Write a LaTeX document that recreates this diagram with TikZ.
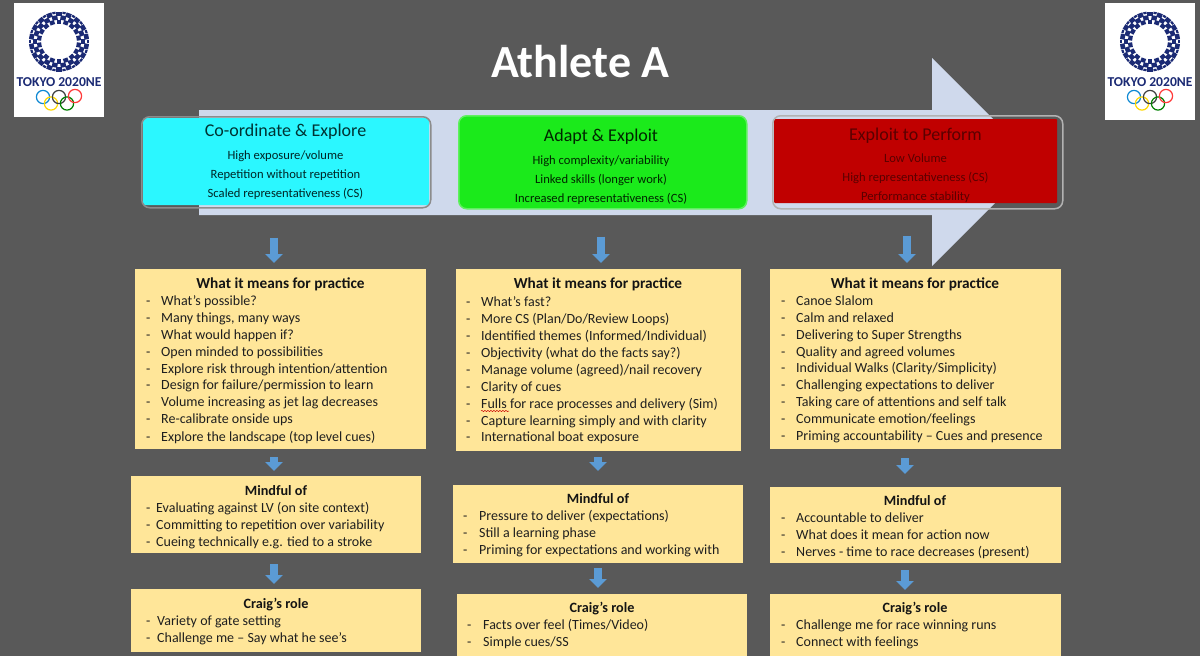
\documentclass[tikz,border=0pt]{standalone}
\usepackage{fontspec}
\setmainfont{Carlito}
\usetikzlibrary{arrows.meta,decorations.pathmorphing,calc}
\definecolor{bg}{HTML}{595959}
\definecolor{paleblue}{HTML}{CFD9EC}
\definecolor{flowblue}{HTML}{5B9BD5}
\definecolor{boxyellow}{HTML}{FFE699}
\definecolor{tcyan}{HTML}{2BF7FF}
\definecolor{tgreen}{HTML}{1BEA1B}
\definecolor{tred}{HTML}{C00000}
\definecolor{navy}{HTML}{1B2A74}
\definecolor{dkred}{HTML}{5A0000}
\tikzset{
  x=1pt,y=-1pt,
  ybox/.style={fill=boxyellow,draw=none,anchor=north west,inner sep=0pt},
  topframe/.style={rounded corners=8pt,draw=#1,line width=1.5pt,anchor=north west,inner sep=0pt},
  flow/.style={draw=flowblue,line width=8pt,-{Triangle[width=17pt,length=9pt]}},
  bl/.style={anchor=base west,inner sep=0pt,yshift=-1pt,font=\fontsize{14}{15}\selectfont,text=black!88},
  hd/.style={anchor=base,inner sep=0pt,font=\fontsize{14.2}{15}\selectfont\bfseries,text=black!92},
  hdp/.style={anchor=base,inner sep=0pt,font=\fontsize{15.3}{15}\selectfont\bfseries,text=black!92},
  ttl/.style={anchor=base,inner sep=0pt,font=\fontsize{18}{20}\selectfont},
  sub/.style={anchor=base,inner sep=0pt,font=\fontsize{12.6}{15}\selectfont},
  ring/.style={line width=1.2pt},
}
\newcommand{\logo}[3]{%
  \begin{scope}[shift={(#1,#2)}]
    \fill[white] (14,3) rectangle (104,#3);
    \foreach \a in {0,20,...,340}{
      \fill[navy,rotate around={\a:(59,41.5)}] (59,41.5)++(-2.7,-30) rectangle ++(5.4,4.6);
      \fill[navy,rotate around={\a+10:(59,41.5)}] (59,41.5)++(-2.7,-26.2) rectangle ++(5.4,4.6);
      \fill[navy,rotate around={\a:(59,41.5)}] (59,41.5)++(-2.4,-22) rectangle ++(4.8,4.2);
      \fill[navy,rotate around={\a+10:(59,41.5)}] (59,41.5)++(-1.6,-30) rectangle ++(3.2,2.2);
    }
    \node[inner sep=0pt,anchor=base,text=navy,font=\fontsize{13.6}{14}\selectfont\bfseries] at (59,86) {TOKYO 2020NE};
    \draw[ring,color=cyan!70!blue] (43,97) circle (6.6);
    \draw[ring,color=orange!30!yellow] (51,103.5) circle (6.6);
    \draw[ring,color=black!75] (59,97) circle (6.6);
    \draw[ring,color=green!50!black] (67,103.5) circle (6.6);
    \draw[ring,color=red!70!pink] (75,96) circle (6.6);
  \end{scope}}
\begin{document}
\begin{tikzpicture}
\useasboundingbox (0,0) rectangle (1200,656);
\fill[bg] (0,0) rectangle (1200,656);
\logo{0}{0}{117}
\logo{1091}{0}{120}
\node[inner sep=0pt,anchor=base,text=white,font=\fontsize{46}{50}\selectfont\bfseries] (title) at (580.5,77) {Athlete A};
% big arrow
\fill[paleblue] (199,110) -- (932,110) -- (932,58) -- (1036,162) -- (932,266) -- (932,215) -- (199,215) -- cycle;
% top boxes
\fill[tcyan,rounded corners=2pt] (143,118) rectangle (429,205);
\fill[tgreen,rounded corners=6pt] (459,116) rectangle (746,208);
\fill[tred,rounded corners=1pt] (774,119) rectangle (1057,203);
\node[topframe=black!45,minimum width=289pt,minimum height=91pt] (t1) at (141,116) {};
\node[topframe=tgreen!70!white,minimum width=288pt,minimum height=93pt] (t2) at (458,115) {};
\node[topframe=black!30,minimum width=290pt,minimum height=93pt] (t3) at (772,115) {};
\node[ttl,text=black!60!teal] (t1a) at (285.5,136) {Co-ordinate \& Explore};
\node[sub,text=black!70!teal] (t1b) at (285.5,159) {High exposure/volume};
\node[sub,text=black!70!teal] (t1c) at (285.5,178) {Repetition without repetition};
\node[sub,text=black!70!teal] (t1d) at (285.5,197) {Scaled representativeness (CS)};
\node[ttl,text=black!85!green] (t2a) at (601,141) {Adapt \& Exploit};
\node[sub,text=black!85!green] (t2b) at (601,164) {High complexity/variability};
\node[sub,text=black!85!green] (t2c) at (601,183) {Linked skills (longer work)};
\node[sub,text=black!85!green] (t2d) at (601,202) {Increased representativeness (CS)};
\node[ttl,text=dkred] (t3a) at (915.5,140) {Exploit to Perform};
\node[sub,text=dkred] (t3b) at (915.5,162) {Low Volume};
\node[sub,text=dkred] (t3c) at (915.5,181) {High representativeness (CS)};
\node[sub,text=dkred] (t3d) at (915.5,200) {Performance stability};
% practice boxes
\node[ybox,minimum width=291pt,minimum height=180pt] (p1) at (135,269) {};
\node[ybox,minimum width=285pt,minimum height=182pt] (p2) at (456,269) {};
\node[ybox,minimum width=291pt,minimum height=180pt] (p3) at (770,269) {};
% mindful boxes
\node[ybox,minimum width=290pt,minimum height=77pt] (m1) at (131,476) {};
\node[ybox,minimum width=290pt,minimum height=78pt] (m2) at (453,485) {};
\node[ybox,minimum width=291pt,minimum height=76pt] (m3) at (770,487) {};
% role boxes
\node[ybox,minimum width=290pt,minimum height=63pt] (r1) at (131,589) {};
\node[ybox,minimum width=290pt,minimum height=62pt] (r2) at (457,594) {};
\node[ybox,minimum width=291pt,minimum height=62pt] (r3) at (770,594) {};
% flow arrows
\coordinate (xa) at (274,0);\coordinate (xb) at (601,0);\coordinate (xc) at (907,0);
\coordinate (xd) at (598,0);\coordinate (xe) at (905,0);
\draw[flow,shorten <=29pt,shorten >=6pt] (t1.south -| xa) -- (p1.north -| xa);
\draw[flow,shorten <=27pt,shorten >=6pt] (t2.south -| xb) -- (p2.north -| xb);
\draw[flow,shorten <=26pt,shorten >=6pt] (t3.south -| xc) -- (p3.north -| xc);
\draw[flow,shorten <=8pt,shorten >=5pt] (p1.south -| xa) -- (m1.north -| xa);
\draw[flow,shorten <=6pt,shorten >=14pt] (p2.south -| xd) -- (m2.north -| xd);
\draw[flow,shorten <=9pt,shorten >=13pt] (p3.south -| xe) -- (m3.north -| xe);
\draw[flow,shorten <=11pt,shorten >=5pt] (m1.south -| xa) -- (r1.north -| xa);
\draw[flow,shorten <=5pt,shorten >=6pt] (m2.south -| xd) -- (r2.north -| xd);
\draw[flow,shorten <=7pt,shorten >=4pt] (m3.south -| xe) -- (r3.north -| xe);
% text lists: column 1
\node[hdp] (p1h) at (280.5,288) {What it means for practice};
\foreach \yy/\tx [count=\i] in {304/{What’s possible?},321/{Many things, many ways},338/{What would happen if?},355/{Open minded to possibilities},372/{Explore risk through intention/attention},388/{Design for failure/permission to learn},405/{Volume increasing as jet lag decreases},422/{Re-calibrate onside ups},440/{Explore the landscape (top level cues)}}{
  \node[bl] (p1d\i) at (146,\yy) {-};
  \node[bl] (p1t\i) at (161,\yy) {\tx};
}
\node[hd] (m1h) at (276,495) {Mindful of};
\foreach \yy/\tx [count=\i] in {511/{Evaluating against LV (on site context)},528/{Committing to repetition over variability},545/{Cueing technically e.g. tied to a stroke}}{
  \node[bl] (m1d\i) at (146,\yy) {-};
  \node[bl] (m1t\i) at (156,\yy) {\tx};
}
\node[hd] (r1h) at (276,608) {Craig’s role};
\foreach \yy/\tx [count=\i] in {624/{Variety of gate setting},641/{Challenge me – Say what he see’s}}{
  \node[bl] (r1d\i) at (146,\yy) {-};
  \node[bl] (r1t\i) at (157,\yy) {\tx};
}
% column 2
\node[hdp] (p2h) at (598,288) {What it means for practice};
\foreach \yy/\tx [count=\i] in {305/{What’s fast?},322/{More CS (Plan/Do/Review Loops)},339/{Identified themes (Informed/Individual)},356/{Objectivity (what do the facts say?)},373/{Manage volume (agreed)/nail recovery},390/{Clarity of cues},407/{Fulls for race processes and delivery (Sim)},424/{Capture learning simply and with clarity},440/{International boat exposure}}{
  \node[bl] (p2d\i) at (466,\yy) {-};
  \node[bl] (p2t\i) at (481,\yy) {\tx};
}
\draw[red!80!black,line width=.5pt,decorate,decoration={snake,amplitude=.6pt,segment length=3pt}] ($(p2t7.base west)+(0,3)$) -- ($(p2t7.base west)+(28,3)$);
\node[hd] (m2h) at (598,503) {Mindful of};
\foreach \yy/\tx [count=\i] in {519/{Pressure to deliver (expectations)},536/{Still a learning phase},553/{Priming for expectations and working with}}{
  \node[bl] (m2d\i) at (463,\yy) {-};
  \node[bl] (m2t\i) at (479,\yy) {\tx};
}
\node[hd] (r2h) at (602,612) {Craig’s role};
\foreach \yy/\tx [count=\i] in {628/{Facts over feel (Times/Video)},645/{Simple cues/SS}}{
  \node[bl] (r2d\i) at (467,\yy) {-};
  \node[bl] (r2t\i) at (483,\yy) {\tx};
}
% column 3
\node[hdp] (p3h) at (915,288) {What it means for practice};
\foreach \yy/\tx [count=\i] in {304/{Canoe Slalom},321/{Calm and relaxed},338/{Delivering to Super Strengths},355/{Quality and agreed volumes},371/{Individual Walks (Clarity/Simplicity)},388/{Challenging expectations to deliver},405/{Taking care of attentions and self talk},422/{Communicate emotion/feelings},439/{Priming accountability – Cues and presence}}{
  \node[bl] (p3d\i) at (781,\yy) {-};
  \node[bl] (p3t\i) at (796,\yy) {\tx};
}
\node[hd] (m3h) at (915,505) {Mindful of};
\foreach \yy/\tx [count=\i] in {521/{Accountable to deliver},538/{What does it mean for action now},555/{Nerves - time to race decreases (present)}}{
  \node[bl] (m3d\i) at (781,\yy) {-};
  \node[bl] (m3t\i) at (796,\yy) {\tx};
}
\node[hd] (r3h) at (915,612) {Craig’s role};
\foreach \yy/\tx [count=\i] in {628/{Challenge me for race winning runs},645/{Connect with feelings}}{
  \node[bl] (r3d\i) at (781,\yy) {-};
  \node[bl] (r3t\i) at (796,\yy) {\tx};
}
\end{tikzpicture}
\end{document}
